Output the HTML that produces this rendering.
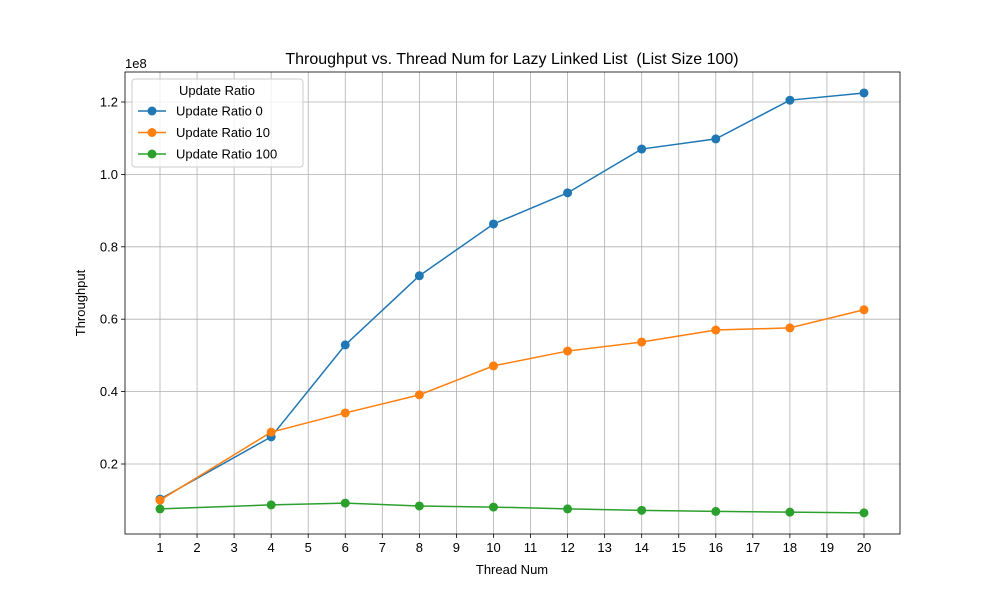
<!DOCTYPE html>
<html><head><meta charset="utf-8"><style>body{margin:0;background:#fff}svg{font-family:"Liberation Sans","DejaVu Sans",sans-serif}</style></head>
<body>
<svg id="c" width="1000" height="600" xmlns="http://www.w3.org/2000/svg"></svg>
<script>
const threads=[1,4,6,8,10,12,14,16,18,20];
const ratio0=[0.103,0.275,0.529,0.72,0.863,0.949,1.07,1.098,1.205,1.225];
const ratio10=[0.100,0.288,0.341,0.391,0.471,0.512,0.537,0.570,0.576,0.626];
const ratio100=[0.076,0.087,0.092,0.084,0.081,0.076,0.072,0.069,0.067,0.065];
const xTicks=[1,2,3,4,5,6,7,8,9,10,11,12,13,14,15,16,17,18,19,20];
const yTicks=[0.2,0.4,0.6,0.8,1.0,1.2];
const L=125,R=900,T=72,B=534;
const X=v=>160+(v-1)*(704/19);
const Y=v=>536.4-v*362;
const s=document.getElementById('c');const NS='http://www.w3.org/2000/svg';
function mk(t,a,p){const e=document.createElementNS(NS,t);for(const k in a)e.setAttribute(k,a[k]);(p||s).appendChild(e);return e;}
mk('rect',{x:L,y:T,width:R-L,height:B-T,fill:'#fff'});
xTicks.forEach(v=>{
const g=mk('line',{x1:X(v),x2:X(v),y1:T,y2:B,stroke:'#b0b0b0','stroke-width':0.8});


mk('line',{x1:X(v),x2:X(v),y1:B,y2:B+4,stroke:'#000','stroke-width':0.8});
const t=mk('text',{x:X(v),y:B+18,'text-anchor':'middle','font-size':13});t.textContent=v;


});
yTicks.forEach(v=>{
const g=mk('line',{x1:L,x2:R,y1:Y(v),y2:Y(v),stroke:'#b0b0b0','stroke-width':0.8});


mk('line',{x1:L-4,x2:L,y1:Y(v),y2:Y(v),stroke:'#000','stroke-width':0.8});
const t=mk('text',{x:L-7,y:Y(v)+4.5,'text-anchor':'end','font-size':13});t.textContent=v.toFixed(1);


});
const series=[[ratio0,'#1f77b4','series-ratio-0'],[ratio10,'#ff7f0e','series-ratio-10'],[ratio100,'#2ca02c','series-ratio-100']];
series.forEach(([d,c,n])=>{
const p=mk('polyline',{points:d.map((v,i)=>X(threads[i])+','+Y(v)).join(' '),fill:'none',stroke:c,'stroke-width':1.5});


d.forEach((v,i)=>{const m=mk('circle',{cx:X(threads[i]),cy:Y(v),r:4.5,fill:c});

});
});
mk('rect',{x:L,y:T,width:R-L,height:B-T,fill:'none',stroke:'#000','stroke-width':0.8});
function txt(x,y,str,a,name){const t=mk('text',Object.assign({x:x,y:y},a));t.textContent=str;return t;}
const ti=txt(512,64,'Throughput vs. Thread Num for Lazy Linked List  (List Size 100)',{'text-anchor':'middle','font-size':16},'chart-title');
ti.style.whiteSpace='pre';
txt(512,574,'Thread Num',{'text-anchor':'middle','font-size':13},'x-axis-title');
txt(85,303,'Throughput',{'text-anchor':'middle','font-size':13,transform:'rotate(-90 85 303)'},'y-axis-title');
txt(125,68,'1e8',{'font-size':13},'y-offset-label');
const lg=mk('g',{});
mk('rect',{x:132,y:79,width:171,height:88,rx:3,fill:'#fff','fill-opacity':0.8,stroke:'#ccc'},lg);
txt(217,95,'Update Ratio',{'text-anchor':'middle','font-size':13},'legend-title');
['Update Ratio 0','Update Ratio 10','Update Ratio 100'].forEach((l,i)=>{
const y=111+i*21.5,c=series[i][1];
mk('line',{x1:138,x2:166,y1:y,y2:y,stroke:c,'stroke-width':1.5},lg);
mk('circle',{cx:152,cy:y,r:4.5,fill:c},lg);
txt(176,y+4.5,l,{'font-size':13},'legend-entry');
});
</script>
</body></html>
